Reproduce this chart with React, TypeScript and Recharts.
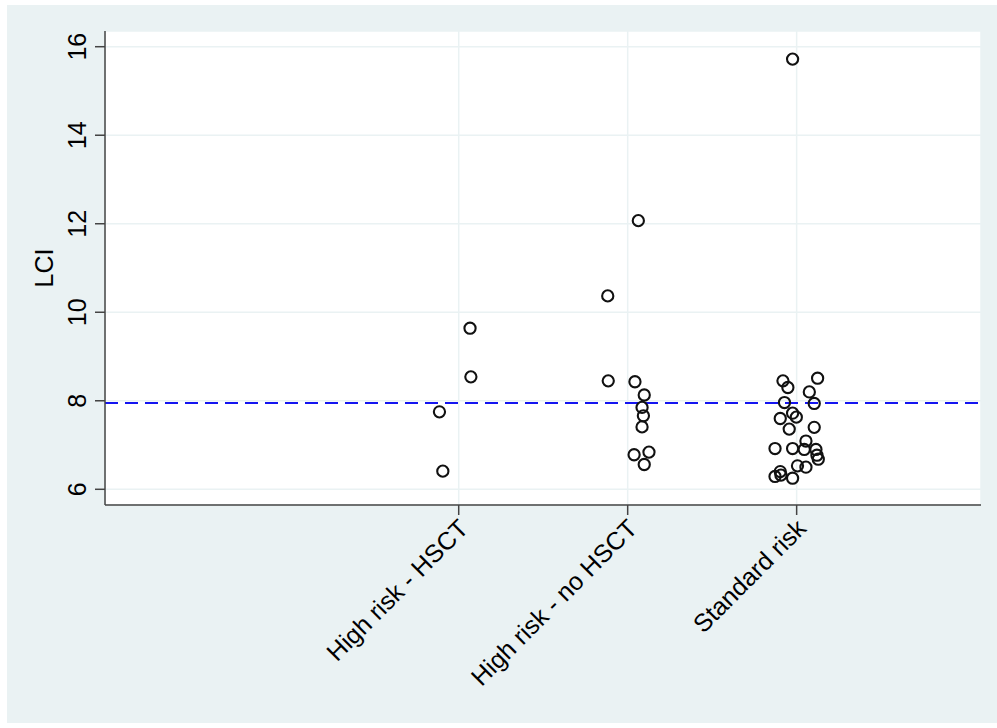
import React from 'react';
import {
    ScatterChart,
    Scatter,
    XAxis,
    YAxis,
    CartesianGrid,
    ReferenceLine,
} from 'recharts';

// group names on the x axis (positions 1, 2, 3)
const groups = ['High risk - HSCT', 'High risk - no HSCT', 'Standard risk'];

// LCI values per group, with horizontal jitter
const hsctLci = [9.64, 8.54, 7.75, 6.41];
const hsctJitter = [0.067, 0.072, -0.114, -0.094];

const noHsctLci = [12.07, 10.37, 8.45, 8.43, 8.13, 7.85, 7.66, 7.41, 6.78, 6.84, 6.56];
const noHsctJitter = [0.063, -0.118, -0.115, 0.043, 0.098, 0.085, 0.093, 0.085, 0.038, 0.126, 0.098];

const standardLci = [
    15.72, 8.45, 8.3, 8.51, 8.2, 7.96, 7.94, 7.72, 7.63, 7.6, 7.36, 7.4, 7.09,
    6.92, 6.92, 6.9, 6.9, 6.77, 6.68, 6.53, 6.5, 6.4, 6.32, 6.29, 6.25,
];
const standardJitter = [
    -0.024, -0.081, -0.052, 0.124, 0.075, -0.072, 0.104, -0.024, -0.002, -0.097, -0.044, 0.104, 0.055,
    -0.128, -0.024, 0.045, 0.114, 0.12, 0.128, 0.005, 0.055, -0.097, -0.093, -0.128, -0.024,
];

const yTicks = [6, 8, 10, 12, 14, 16];
const xTicks = [1, 2, 3];
const lciCutoff = 7.95;

const FONT = '"Liberation Sans", Arial, sans-serif';
const FONT_SIZE = 25;
const BG = '#EAF2F3';

const toPoints = (values: number[], jitter: number[], pos: number) =>
    values.map((v, i) => ({ x: pos + jitter[i], lci: v }));

const allPoints = [
    ...toPoints(hsctLci, hsctJitter, 1),
    ...toPoints(noHsctLci, noHsctJitter, 2),
    ...toPoints(standardLci, standardJitter, 3),
];

const YTick = (props: any) => {
    const { x, y, payload } = props;
    const tx = x - 7;
    return (
        <text
            x={tx}
            y={y}
            transform={`rotate(-90 ${tx} ${y})`}
            textAnchor="middle"
            fontSize={FONT_SIZE}
            fontFamily={FONT}
            fill="#000"
        >
            {payload.value}
        </text>
    );
};

const XTick = (props: any) => {
    const { x, y, payload } = props;
    const tx = x + 11;
    const ty = y + 13;
    const name = groups[Math.round(payload.value) - 1];
    return (
        <text
            x={tx}
            y={ty}
            transform={`rotate(-45 ${tx} ${ty})`}
            textAnchor="end"
            fontSize={FONT_SIZE}
            fontFamily={FONT}
            fill="#000"
        >
            {name}
        </text>
    );
};

const YLabel = (props: any) => {
    const vb = props.viewBox || { x: 0, y: 26, width: 98, height: 474 };
    const cx = vb.x + 46;
    const cy = vb.y + vb.height / 2;
    return (
        <text
            x={cx}
            y={cy}
            transform={`rotate(-90 ${cx} ${cy})`}
            textAnchor="middle"
            fontSize={FONT_SIZE}
            fontFamily={FONT}
            fill="#000"
        >
            LCI
        </text>
    );
};

const Ring = (props: any) => (
    <circle cx={props.cx} cy={props.cy} r={5.6} fill="none" stroke="#111" strokeWidth={2.1} />
);

export default function App() {
    return (
        <div style={{ position: 'absolute', left: 7, top: 5, width: 990, height: 718, background: BG }}>
            <ScatterChart
                width={990}
                height={718}
                margin={{ top: 26, right: 16, left: 0, bottom: 0 }}
            >
                <CartesianGrid fill="#ffffff" stroke={BG} strokeWidth={1.5} />
                <XAxis
                    type="number"
                    dataKey="x"
                    domain={[-1.0933, 4.091]}
                    ticks={xTicks}
                    allowDataOverflow
                    height={218}
                    tickSize={10}
                    tickMargin={2}
                    stroke="#444"
                    strokeWidth={1.5}
                    tick={<XTick />}
                />
                <YAxis
                    type="number"
                    dataKey="lci"
                    domain={[5.645, 16.355]}
                    ticks={yTicks}
                    allowDataOverflow
                    width={98}
                    tickSize={10}
                    tickMargin={2}
                    stroke="#444"
                    strokeWidth={1.5}
                    tick={<YTick />}
                    label={<YLabel />}
                />
                <ReferenceLine y={lciCutoff} stroke="#1414F0" strokeWidth={2} strokeDasharray="13 7" />
                <Scatter data={allPoints} shape={<Ring />} isAnimationActive={false} />
            </ScatterChart>
        </div>
    );
}
